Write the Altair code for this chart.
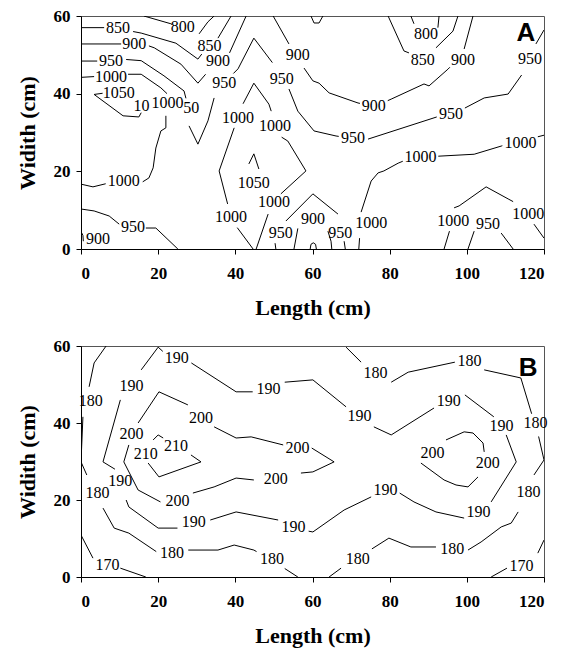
import altair as alt
import pandas as pd

SERIF = "Liberation Serif, Times New Roman, serif"

# ---------------- Panel A: contour segments (Length cm, Width cm) ----------------
A_800 = [
    [(16.3, 60), (23.3, 58), (23.6, 57.8)],
    [(30.6, 55.4), (32.9, 58.5), (34.5, 60)],
    [(85.5, 60), (86.3, 58)],
    [(92.5, 57), (92.8, 60)],
]
A_850 = [
    [(0, 57), (6, 57)],
    [(13.5, 56), (15.6, 55.6), (24.6, 53), (30.3, 48.9), (31.3, 50.2)],
    [(35.5, 54.3), (38.9, 60)],
    [(79.6, 60), (83.7, 51), (85, 50.5)],
    [(92, 51.8), (96.4, 56.1), (97.7, 60)],
    [(59.6, 60), (60.4, 58.2), (61.7, 58.2), (62.7, 60)],
    [(59.4, 0), (59.6, 1.2), (60.2, 1.6), (60.8, 1.2), (61, 0)],
]
A_900 = [
    [(0, 52.8), (10.4, 52.8)],
    [(17.6, 52.3), (19, 51.8), (25.9, 47.6), (30.3, 42.7), (32.3, 45)],
    [(38.5, 50.5), (42.8, 60)],
    [(49.8, 60), (53.9, 52.8)],
    [(57.8, 46.6), (60.1, 43.3), (61.7, 42.7), (64.3, 40.2), (71.8, 37.6), (72.3, 37.5)],
    [(79.5, 38.2), (80.4, 38.6), (88.9, 42.5), (90.2, 42), (95.1, 46.3), (95.6, 46.8)],
    [(99.3, 51.5), (101.6, 60)],
    [(55.2, 0), (56.2, 5.3)],
    [(64, 4.6), (64.8, 2), (65, 0)],
    [(0, 4.5), (0.5, 3.5), (0.6, 2)],
]
A_950 = [
    [(0, 48.4), (4.2, 48.4)],
    [(11.7, 48.8), (15.6, 48.5), (21.5, 44.6), (26.7, 40.7), (27.2, 38.8)],
    [(28, 31.7), (30.3, 27), (32.9, 33), (34.5, 38.9)],
    [(39.5, 45.2), (40.7, 46.4), (44.8, 54.3), (49.6, 48)],
    [(53.9, 41.2), (56.2, 35.5), (60.4, 30.4), (66.1, 29.1), (66.8, 29)],
    [(74.4, 28.3), (92.2, 34)],
    [(99.5, 36.3), (104.5, 38.9), (110.7, 39.9), (114.2, 44.8)],
    [(117.9, 52.8), (120, 56.4)],
    [(0, 10.3), (3.4, 9.8), (7.3, 8.5), (9.9, 6.4)],
    [(16.8, 5.4), (19.4, 5.4), (25.1, 0)],
    [(50.5, 0), (50.3, 1.5)],
    [(53.1, 7.2), (60.1, 14.2), (66.6, 9)],
    [(68.2, 2), (68.5, 0)],
    [(100.3, 0), (101.9, 4.6)],
    [(108.9, 4.1), (112, 0)],
]
A_1000 = [
    [(0, 44.2), (3.4, 44.4)],
    [(12.2, 45.0), (15.6, 45.0), (20.7, 41.5), (22.3, 40)],
    [(22, 34.3), (22, 31.2), (20.7, 30.4), (19.4, 26), (18.7, 20.9), (17.6, 18.3), (16, 17.3)],
    [(6.4, 16.8), (3.1, 16), (0, 16.7)],
    [(42, 37.4), (44.8, 42.7), (48.7, 37.3), (49.3, 35.5)],
    [(39.7, 31.2), (35.8, 20.1), (38, 11.6)],
    [(40.5, 5.5), (44.6, 0)],
    [(52, 28.8), (53.6, 27.8), (58.3, 20.1), (51.8, 14.2)],
    [(48.5, 9), (45.4, 0)],
    [(72, 0), (72.2, 2.8)],
    [(72.6, 9.5), (75.2, 17.5), (77, 19.6), (78.5, 20.1), (82.2, 22.1), (83.4, 22.6)],
    [(92.6, 23.9), (101.9, 24.4), (108.9, 26.5), (109.2, 26.6)],
    [(118.4, 28.9), (120, 29.3)],
    [(94.1, 0), (95.5, 4.6)],
    [(96.7, 10.6), (98, 11.1), (105, 16), (110.7, 12.9), (112, 12.2)],
    [(117.4, 6.4), (120, 2.8)],
]
A_1050 = [
    [(5.6, 40.1), (3.4, 39.8), (10.9, 34.3), (15, 34), (15.6, 35.1)],
    [(43.5, 21.9), (44.8, 24.5), (46.1, 20.6)],
]
A_LABEL_X = [26.4, 89.4, 9.6, 33.3, 88.6, 13.8, 35.5, 56.2, 75.9, 99.0, 60.1, 4.4,
             7.8, 28.6, 37.1, 52.0, 70.5, 95.9, 116.4, 13.5, 51.8, 67.2, 105.5,
             7.8, 22.4, 11.1, 40.7, 50.3, 38.9, 50.0, 88.0, 113.9, 75.2, 96.5, 115.9,
             9.8, 15.7, 44.8]
A_LABEL_Y = [57.2, 55.4, 56.8, 52.2, 48.6, 52.8, 48.4, 50.0, 36.8, 48.6, 7.7, 2.6,
             48.5, 36.3, 42.7, 43.8, 28.6, 34.8, 48.8, 5.7, 4.1, 4.2, 6.4,
             44.4, 37.6, 17.5, 33.7, 31.7, 8.2, 12.0, 23.6, 27.3, 6.6, 7.2, 8.9,
             40.2, 36.9, 17.0]
A_LABEL_T = ["800", "800", "850", "850", "850", "900", "900", "900", "900", "900", "900", "900",
             "950", "50", "950", "950", "950", "950", "950", "950", "950", "950", "950",
             "1000", "1000", "1000", "1000", "1000", "1000", "1000", "1000", "1000", "1000", "1000", "1000",
             "1050", "10", "1050"]

# ---------------- Panel B ----------------
B_170 = [
    [(0, 10.9), (3.1, 4.9)],
    [(10.2, 2.3), (16.8, 0)],
    [(106.3, 0), (110.4, 2.3)],
    [(118.4, 6.2), (120, 9.6)],
]
B_180 = [
    [(6.5, 60), (3.4, 55.6), (2.1, 49.4)],
    [(0.5, 41.6), (0, 29.9), (1.5, 26.5)],
    [(5.7, 17.9), (8.6, 12.7), (12.4, 11.4), (19.5, 6.6)],
    [(27.8, 7), (35.5, 7), (39.7, 8.3), (44.8, 7), (45.5, 6.6)],
    [(52.8, 2.2), (56.2, 0)],
    [(64.3, 0), (67.4, 2.3)],
    [(75.4, 7.3), (79.8, 10.1), (85.5, 7.8), (92, 7.8)],
    [(100.3, 7), (103.7, 9.1), (108.9, 13), (111.5, 14), (113.3, 16.9)],
    [(117.4, 26.5), (120, 30.4), (118.6, 36.5)],
    [(116.8, 42.4), (114, 51.7), (104.5, 53.8)],
    [(96.9, 55.8), (84.8, 53.2), (80.4, 50.6)],
    [(72.6, 55.8), (68.7, 59.7)],
]
B_190 = [
    [(28.6, 55.6), (40.2, 48.1), (44.5, 48.1)],
    [(52.8, 50.6), (60.1, 51.2), (68.7, 44.2)],
    [(75.9, 39), (80.4, 36.9), (91.5, 43.9)],
    [(99.5, 47.3), (107, 41.6)],
    [(110.2, 36.9), (112.8, 29.9), (106.3, 19.5)],
    [(99.3, 15.3), (92, 16.9), (86.3, 19.5), (82.6, 21.8)],
    [(75.2, 20.8), (68.2, 17.4), (60.1, 11.7), (59, 11.9)],
    [(51.1, 14.8), (40.2, 16.9), (33.5, 14.8)],
    [(25, 12.7), (20, 12.7), (12.4, 18.2), (11.7, 20)],
    [(8.8, 28), (5.7, 29.9), (10.2, 46)],
    [(15.6, 53.8), (20, 59.7), (21.2, 58.6)],
]
B_200 = [
    [(14.8, 40), (20.2, 48.1), (27.7, 44.7)],
    [(34.5, 39), (40.2, 36.1), (44.1, 36.4), (52.4, 34.3)],
    [(59.8, 33.5), (65.6, 29.9), (60.1, 27.3), (57, 27)],
    [(44.8, 25.2), (40.2, 25.7), (34.5, 23.4), (29, 21.8)],
    [(20.6, 19.5), (14.8, 22.6), (11.1, 29.9), (12.4, 34.3)],
    [(94.6, 35.6), (99.3, 37.7), (101.6, 37.4), (104.2, 34.8), (104.5, 32.5)],
    [(88.1, 29.6), (94.1, 25.2), (97.2, 23.9), (100.3, 23.4), (102.9, 26)],
]
B_210 = [
    [(17.4, 29.6), (20.2, 26), (31.1, 29.9), (28.5, 31.7)],
    [(18.7, 35.6), (20, 36.9), (21.3, 36.1)],
]
B_LABEL_X = [6.9, 114.2,
             2.5, 4.3, 23.6, 49.5, 71.7, 96.2, 116.0, 117.8, 100.7, 76.3,
             24.8, 48.6, 72.2, 95.3, 109.0, 103.0, 78.9, 55.1, 29.2, 10.2, 13.1,
             13.1, 31.1, 56.1, 50.5, 25.0, 91.1, 105.4,
             16.8, 24.6]
B_LABEL_Y = [3.1, 2.9,
             45.6, 21.7, 6.2, 4.7, 4.8, 7.4, 22.2, 39.9, 56.1, 52.9,
             57.0, 48.8, 41.7, 45.6, 39.1, 17.0, 22.6, 13.1, 14.4, 24.9, 49.6,
             37.1, 41.2, 33.6, 25.5, 19.7, 32.1, 29.5,
             31.9, 34.0]
B_LABEL_T = ["170", "170",
             "180", "180", "180", "180", "180", "180", "180", "180", "180", "180",
             "190", "190", "190", "190", "190", "190", "190", "190", "190", "190", "190",
             "200", "200", "200", "200", "200", "200", "200",
             "210", "210"]

X_TICKS = [0, 20, 40, 60, 80, 100, 120]
Y_TICKS = [0, 10, 20, 30, 40, 50, 60]
PANEL_TAGS = ["A", "B"]
TAG_POS = [(115.3, 55.6), (115.9, 54.3)]


def lines_df(groups):
    rows = []
    sid = 0
    for level, segs in groups:
        for seg in segs:
            for i, (x, y) in enumerate(seg):
                rows.append({"seg": sid, "i": i, "x": x, "y": y, "level": level})
            sid += 1
    return pd.DataFrame(rows)


def panel(groups, lx, ly, lt, tag, tagpos, height):
    xs = alt.Scale(domain=[0, 120], nice=False, zero=False)
    ys = alt.Scale(domain=[0, 60], nice=False, zero=False)
    xax = alt.Axis(values=X_TICKS, title="Length (cm)")
    yax = alt.Axis(values=Y_TICKS, title="Widith (cm)")
    ld = lines_df(groups)
    lines = alt.Chart(ld).mark_line(color="black", strokeWidth=1, clip=True).encode(
        x=alt.X("x:Q", scale=xs, axis=xax),
        y=alt.Y("y:Q", scale=ys, axis=yax),
        detail="seg:N",
        order="i:Q",
    )
    lab = pd.DataFrame({"x": lx, "y": ly, "t": lt})
    texts = alt.Chart(lab).mark_text(
        font=SERIF, fontSize=16, color="black"
    ).encode(x=alt.X("x:Q", scale=xs), y=alt.Y("y:Q", scale=ys), text="t:N")
    tg = pd.DataFrame({"x": [tagpos[0]], "y": [tagpos[1]], "t": [tag]})
    tagm = alt.Chart(tg).mark_text(
        font="Liberation Sans, Arial, sans-serif", fontWeight="bold", fontSize=26, color="black"
    ).encode(x=alt.X("x:Q", scale=xs), y=alt.Y("y:Q", scale=ys), text="t:N")
    return alt.layer(lines, texts, tagm).properties(width=463, height=height)


A_groups = [(800, A_800), (850, A_850), (900, A_900), (950, A_950), (1000, A_1000), (1050, A_1050)]
B_groups = [(170, B_170), (180, B_180), (190, B_190), (200, B_200), (210, B_210)]

pa = panel(A_groups, A_LABEL_X, A_LABEL_Y, A_LABEL_T, PANEL_TAGS[0], TAG_POS[0], 233)
pb = panel(B_groups, B_LABEL_X, B_LABEL_Y, B_LABEL_T, PANEL_TAGS[1], TAG_POS[1], 231)

chart = alt.vconcat(pa, pb, spacing=17).properties(
    padding={"left": 15, "top": 6, "right": 5, "bottom": 2},
    background="white",
).configure_view(stroke="#555555", strokeWidth=1).configure_axis(
    grid=False,
    domainColor="black",
    tickColor="black",
    tickSize=5,
    labelFont=SERIF,
    labelFontWeight="bold",
    labelFontSize=17,
    labelColor="black",
    labelPadding=6,
    titleFont=SERIF,
    titleFontWeight="bold",
    titleFontSize=22,
    titleColor="black",
).configure_axisX(titlePadding=16, labelPadding=11).configure_axisY(titlePadding=14)

chart.save("out.html", embed_options={"renderer": "svg", "actions": False})
